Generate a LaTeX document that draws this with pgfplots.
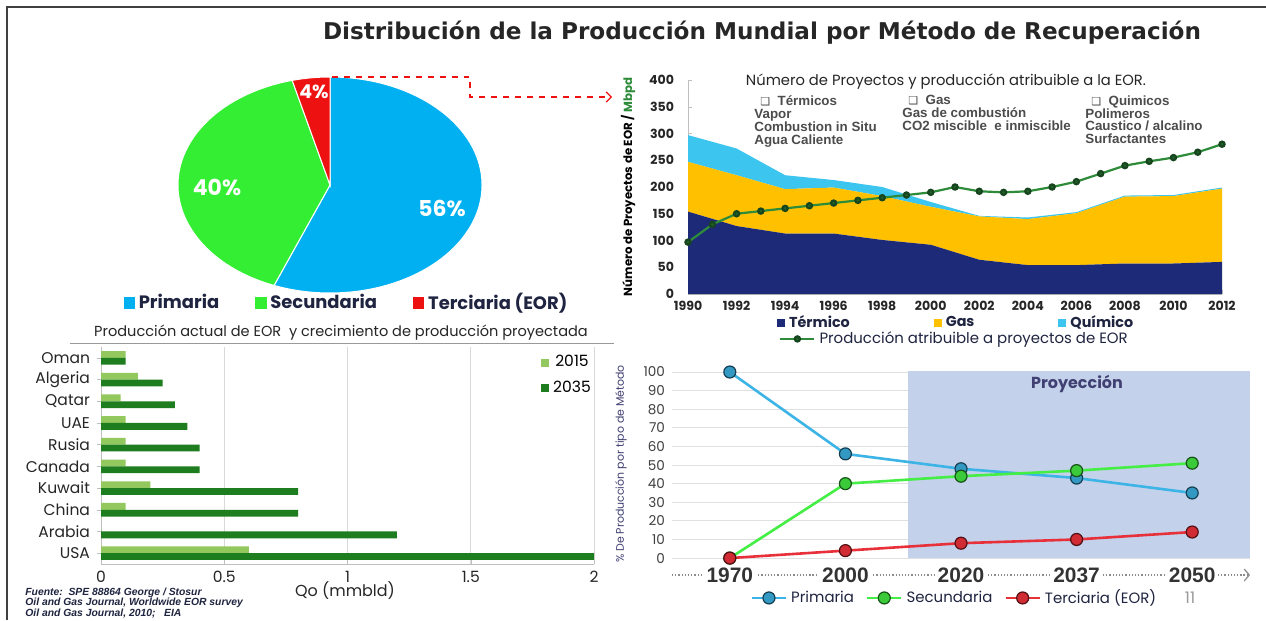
\documentclass[border=0pt]{standalone}
\usepackage{pgfplots}
\pgfplotsset{compat=1.18}
\usepackage{pgfplotstable}
\usepackage{fontspec}
\setmainfont{Poppins}
\newfontfamily\dejavu{DejaVu Sans}
\newfontfamily\arial{Liberation Sans}
\usetikzlibrary{arrows.meta}

\definecolor{pieblue}{HTML}{00B0F0}
\definecolor{piegreen}{HTML}{33EE33}
\definecolor{piered}{HTML}{EE1111}
\definecolor{termico}{HTML}{1C2A78}
\definecolor{gas}{HTML}{FFC000}
\definecolor{quim}{HTML}{3CC5EF}
\definecolor{prodline}{HTML}{2E8B3A}
\definecolor{b2015}{HTML}{92C85E}
\definecolor{b2035}{HTML}{1E7D1E}
\definecolor{prim}{HTML}{3CB4E6}
\definecolor{secu}{HTML}{44EE44}
\definecolor{terc}{HTML}{E8303A}
\definecolor{proj}{HTML}{C3D1EA}
\definecolor{darktext}{HTML}{1F2440}
\newcommand{\fs}[1]{\fontsize{#1}{#1}\selectfont}

\pgfplotstableread{
year T G Q
1990 154 93 50
1992 127 95 50
1994 113 83 26
1996 113 86 14
1998 101 82 17
2000 92 71 9
2002 64 81 1
2004 54 86 3
2006 54 97 2
2008 57 125 2
2010 57 126 2
2012 60 137 2
}\areadata

\pgfplotstableread{
year P
1990 97
1991 130
1992 150
1993 155
1994 160
1995 165
1996 170
1997 175
1998 180
1999 185
2000 190
2001 200
2002 192
2003 190
2004 192
2005 200
2006 210
2007 225
2008 240
2009 248
2010 255
2011 265
2012 280
}\proddata

\pgfplotstableread{
idx country y2015 y2035
0 USA 0.6 2.0
1 Arabia 0 1.2
2 China 0.1 0.8
3 Kuwait 0.2 0.8
4 Canada 0.1 0.4
5 Rusia 0.1 0.4
6 UAE 0.1 0.35
7 Qatar 0.08 0.3
8 Algeria 0.15 0.25
9 Oman 0.1 0.1
}\bardata

\pgfplotstableread{
x prim secu terc
0 100 0 0
1 56 40 4
2 48 44 8
3 43 47 10
4 35 51 14
}\methdata

% pie shares (%)
\def\pieP{56}
\def\pieS{40}
\def\pieT{4}

\begin{document}
\begin{tikzpicture}[x=1bp,y=1bp]
\path[use as bounding box] (0,0) rectangle (633,310);
\fill[white] (0,0) rectangle (633,310);
\draw[line width=1.3bp, black!75] (3.5,0) -- (3.5,306.5) -- (633,306.5);
\node[font=\dejavu\bfseries\fs{11.6}, text=black!85] at (381,293.5) {Distribución de la Producción Mundial por Método de Recuperación};

\pgfmathsetmacro\aP{3.6*\pieP}
\pgfmathsetmacro\aS{3.6*\pieS}
\pgfmathsetmacro\aT{3.6*\pieT}
\pgfmathsetmacro\bS{90-\aP}
\pgfmathsetmacro\bT{90-\aP-\aS}

% ---------- pie ----------
\begin{axis}[at={(165bp,217.5bp)}, anchor=center, width=152bp, height=108bp, scale only axis,
  xmin=-1,xmax=1,ymin=-1,ymax=1, hide axis, clip=false,
  legend columns=3,
  legend style={draw=none, fill=none, at={(-0.2,-0.045)}, anchor=west, font=\bfseries\fs{9}, text=darktext,
    /tikz/every even column/.append style={column sep=16bp}},
  legend image code/.code={\fill[#1] (0bp,-2.6bp) rectangle (5.2bp,2.6bp);}]
\addlegendimage{pieblue}\addlegendentry{Primaria}
\addlegendimage{piegreen}\addlegendentry{Secundaria}
\addlegendimage{piered}\addlegendentry{Terciaria (EOR)}
\filldraw[fill=pieblue, draw=white, line width=0.5bp] (axis cs:0,0) -- (axis cs:0,1) arc[start angle=90, delta angle=-\aP, x radius=76bp, y radius=54bp] -- cycle;
\filldraw[fill=piegreen, draw=white, line width=0.5bp] (axis cs:0,0) -- (axis cs:{cos(\bS)},{sin(\bS)}) arc[start angle=\bS, delta angle=-\aS, x radius=76bp, y radius=54bp] -- cycle;
\filldraw[fill=piered, draw=white, line width=0.5bp] (axis cs:0,0) -- (axis cs:{cos(\bT)},{sin(\bT)}) arc[start angle=\bT, delta angle=-\aT, x radius=76bp, y radius=54bp] -- cycle;
\end{axis}
\node[font=\bfseries\fs{11}, text=white] at (221,206) {56\%};
\node[font=\bfseries\fs{11}, text=white] at (108.5,216.5) {40\%};
\node[font=\bfseries\fs{9.5}, text=white] at (157,264) {4\%};
\draw[piered, dashed, line width=0.6bp, -{Straight Barb[length=2.5bp, width=5bp]}] (166,271.5) -- (235,271.5) -- (235,261.5) -- (306,261.5);

% ---------- area chart ----------
\begin{axis}[at={(344bp,163bp)}, anchor=south west, width=267bp, height=107bp, scale only axis,
  xmin=1990, xmax=2012, ymin=0, ymax=400,
  xtick={1990,1992,...,2012}, ytick={0,50,...,400},
  stack plots=y, axis lines*=left, axis line style={draw=black!25}, major tick length=2bp, tick style={draw=black!25},
  /pgf/number format/assume math mode=true, /pgf/number format/1000 sep={},
  tick label style={font=\bfseries\fs{6.3}, text=black!85},
  yticklabel style={xshift=-3.5bp},
  legend columns=3,
  legend style={draw=none, fill=none, at={(0.155,-0.135)}, anchor=west, font=\bfseries\fs{7.2}, text=darktext,
    /tikz/every even column/.append style={column sep=40bp}},
  clip=false]
\addplot[draw=none, fill=termico, legend image code/.code={\fill[termico] (0bp,-2bp) rectangle (4bp,2bp);}] table[x=year,y=T]{\areadata} \closedcycle;
\addlegendentry{Térmico}
\addplot[draw=none, fill=gas, legend image code/.code={\fill[gas] (0bp,-2bp) rectangle (4bp,2bp);}] table[x=year,y=G]{\areadata} \closedcycle;
\addlegendentry{Gas}
\addplot[draw=none, fill=quim, legend image code/.code={\fill[quim] (0bp,-2bp) rectangle (4bp,2bp);}] table[x=year,y=Q]{\areadata} \closedcycle;
\addlegendentry{Químico}
\end{axis}
\begin{axis}[at={(344bp,163bp)}, anchor=south west, width=267bp, height=107bp, scale only axis,
  xmin=1990, xmax=2012, ymin=0, ymax=400, hide axis, clip=false,
  legend style={draw=none, fill=none, at={(0.159,-0.21)}, anchor=west, font=\fs{7.5}, text=darktext}]
\addplot[prodline, line width=1.1bp, mark=*, mark size=1.3bp, mark options={fill=prodline!70!black, draw=prodline!50!black}] table[x=year,y=P]{\proddata};
\addlegendentry{Producción atribuible a proyectos de EOR}
\end{axis}
\node[font=\fs{7.4}, text=black!85] at (473,269) {Número de Proyectos y producción atribuible a la EOR.};
\node[rotate=90, font=\bfseries\fs{5.9}] at (314,216.5) {Número de Proyectos de EOR / {\color{prodline}Mbpd}};
\begin{scope}[every node/.style={anchor=north west, align=left, font=\arial\bfseries\fontsize{6.7}{6.5}\selectfont, text=black!70, inner sep=0}]
\node at (377,262.5) {\hspace{3bp}{\dejavu\fs{5.5}❑}\ \ Térmicos\\Vapor\\Combustion in Situ\\Agua Caliente};
\node at (451,262.5) {\hspace{3bp}{\dejavu\fs{5.5}❑}\ \ Gas\\Gas de combustión\\CO2 miscible\ \ e inmiscible};
\node at (542.5,262.5) {\hspace{3bp}{\dejavu\fs{5.5}❑}\ \ Quimicos\\Polimeros\\Caustico / alcalino\\Surfactantes};
\end{scope}

% ---------- bar chart ----------
\node[font=\fs{7.3}, text=black!85] at (170.5,143.5) {Producción actual de EOR\ \ y crecimiento de producción proyectada};
\draw[black!40, line width=0.5bp] (35,138.5) -- (307,138.5);
\begin{axis}[at={(50.5bp,28bp)}, anchor=south west, width=246.5bp, height=108.5bp, scale only axis,
  xbar, xmin=0, xmax=2, ymin=-0.5, ymax=9.5, bar width=3.4bp,
  ytick={0,...,9}, yticklabels={USA,Arabia,China,Kuwait,Canada,Rusia,UAE,Qatar,Algeria,Oman},
  xtick={0,0.5,1,1.5,2}, xticklabels={0,0.5,1,1.5,2},
  xmajorgrids, grid style={black!15}, axis lines*=left, axis line style={draw=black!25}, tick style={draw=black!25}, major tick length=2bp,
  tick label style={font=\fs{7.8}, text=black!85},
  legend style={draw=none, fill=none, at={(0.88,1.0)}, anchor=north west, font=\fs{7.8}, row sep=1.5bp}]
\addplot[draw=none, fill=b2015, bar shift=1.7bp, legend image code/.code={\fill[b2015] (0bp,-2bp) rectangle (4bp,2bp);}] table[x=y2015, y=idx]{\bardata};
\addlegendentry{2015}
\addplot[draw=none, fill=b2035, bar shift=-1.7bp, legend image code/.code={\fill[b2035] (0bp,-2bp) rectangle (4bp,2bp);}] table[x=y2035, y=idx]{\bardata};
\addlegendentry{2035}
\end{axis}
\node[font=\fs{8}, text=black!85] at (172.5,14.5) {Qo (mmbld)};
\node[anchor=west, align=left, font=\arial\bfseries\itshape\fontsize{5.2}{5.4}\selectfont, text=darktext, inner sep=0] at (12.5,8.5) {Fuente:\ \ SPE 88864 George / Stosur\\Oil and Gas Journal, Worldwide EOR survey\\Oil and Gas Journal, 2010;\ \ \ EIA};

% ---------- method evolution ----------
\begin{axis}[at={(336bp,22.5bp)}, anchor=south west, width=289bp, height=101.5bp, scale only axis,
  xmin=-0.5, xmax=4.5, ymin=-9.1, ymax=100, clip=false,
  xtick={0,...,4}, xticklabels={1970,2000,2020,2037,2050},
  ytick={0,10,...,100}, ymajorgrids, grid style={black!12},
  axis x line=bottom, axis y line=left,
  x axis line style={black!45, densely dotted, line width=0.6bp, -{Straight Barb[length=2.5bp, width=6bp]}},
  y axis line style={draw=none},
  major tick length=0pt,
  xticklabel style={font=\arial\bfseries\fs{10.5}, text=black!80, fill=white, inner sep=1.5bp, anchor=center},
  yticklabel style={font=\fs{6.8}, text=black!75},
  /pgf/number format/assume math mode=true,
  legend columns=3,
  legend style={draw=none, fill=none, at={(0.125,-0.113)}, anchor=west, font=\fs{7.5}, text=darktext,
    /tikz/every even column/.append style={column sep=4bp}}]
\addplot[fill=proj, draw=none, forget plot] coordinates {(1.54,100.5) (4.5,100.5)} \closedcycle;
\addplot[prim, line width=1.3bp, mark=*, mark size=3bp, mark options={fill=prim!85!black, draw=prim!35!black, line width=0.6bp}] table[x=x,y=prim]{\methdata};
\addlegendentry{Primaria}
\addplot[secu, line width=1.3bp, mark=*, mark size=3bp, mark options={fill=secu!85!black, draw=secu!35!black, line width=0.6bp}] table[x=x,y=secu]{\methdata};
\addlegendentry{Secundaria}
\addplot[terc, line width=1.3bp, mark=*, mark size=3bp, mark options={fill=terc!90!black, draw=terc!35!black, line width=0.6bp}] table[x=x,y=terc]{\methdata};
\addlegendentry{Terciaria (EOR)}
\end{axis}
\node[font=\bfseries\fs{8}, text=black!60!blue!50!gray] at (538.5,118) {Proyección};
\node[font=\fs{5.5}, text=black!60!blue!50!gray] at (310.5,78) [rotate=90] {\% De Producción por tipo de Método};
\node[font=\fs{8}, text=black!40] at (595,11) {11};
\end{tikzpicture}
\end{document}
